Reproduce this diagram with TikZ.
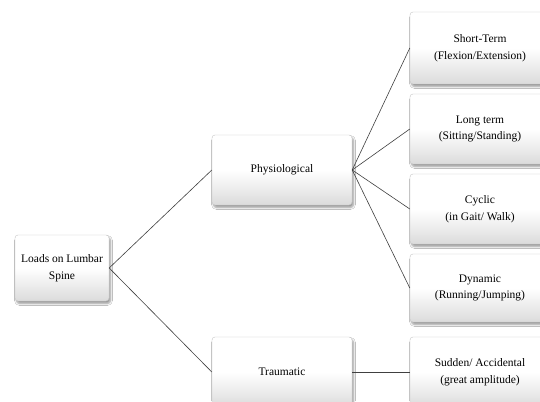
\documentclass[tikz,border=0pt]{standalone}
\usepackage{fontspec}
\setmainfont{Liberation Serif}
\usetikzlibrary{shadows.blur}
\begin{document}
\begin{tikzpicture}[x=1pt,y=-1pt,
  box/.style={draw=gray!45, line width=0.4pt, rounded corners=3pt,
    top color=white, bottom color=gray!28, middle color=white,
    blur shadow={shadow xshift=1.5pt, shadow yshift=-2.5pt, shadow blur steps=6, shadow opacity=40},
    align=center, inner sep=2pt,
    font=\fontsize{11.5}{16.5}\selectfont},
  link/.style={draw=black!75, line width=0.6pt}]
\useasboundingbox (0,0) rectangle (540,401);
\fill[white] (0,0) rectangle (540,401);
\node[box, minimum width=94pt, minimum height=66pt] (root) at (62,268) {Loads on Lumbar\\Spine};
\node[box, minimum width=140pt, minimum height=70pt] (phys) at (282,170) {Physiological};
\node[box, minimum width=140pt, minimum height=70pt] (trau) at (282,372) {Traumatic};
\node[box, minimum width=140pt, minimum height=72pt] (st) at (480,48) {Short-Term\\(Flexion/Extension)};
\node[box, minimum width=140pt, minimum height=70pt] (lt) at (480,129) {Long term\\(Sitting/Standing)};
\node[box, minimum width=140pt, minimum height=70pt] (cy) at (480,209) {Cyclic\\(in Gait/ Walk)};
\node[box, minimum width=140pt, minimum height=68pt] (dy) at (480,288) {Dynamic\\(Running/Jumping)};
\node[box, minimum width=140pt, minimum height=70pt] (sa) at (480,372) {Sudden/ Accidental\\(great amplitude)};
\draw[link] (root.east) -- (phys.west);
\draw[link] (root.east) -- (trau.west);
\draw[link] (phys.east) -- (st.west);
\draw[link] (phys.east) -- (lt.west);
\draw[link] (phys.east) -- (cy.west);
\draw[link] (phys.east) -- (dy.west);
\draw[link] (trau.east) -- (sa.west);
\end{tikzpicture}
\end{document}
